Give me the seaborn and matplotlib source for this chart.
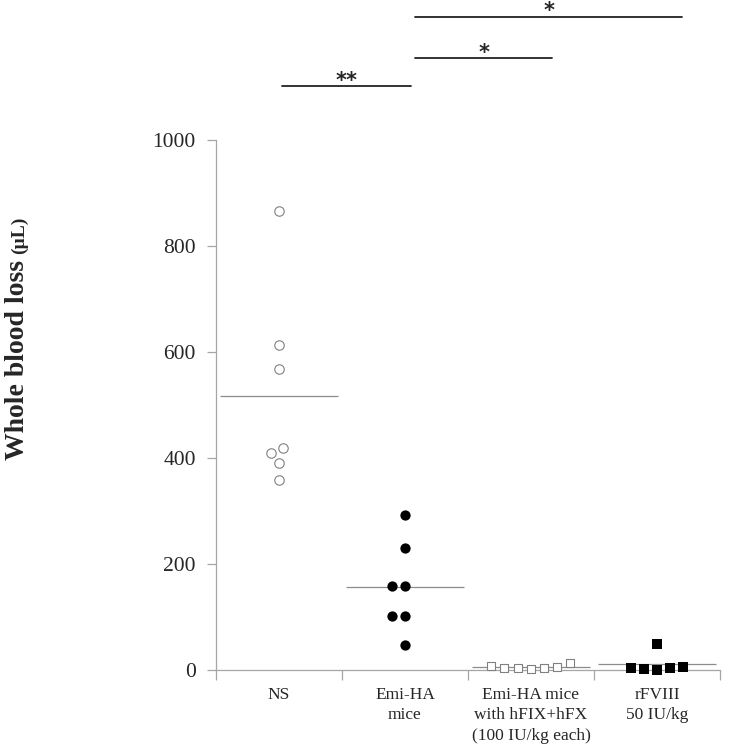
import numpy as np
import pandas as pd
import seaborn as sns
import matplotlib.pyplot as plt

groups = ["NS", "Emi-HA\nmice", "Emi-HA mice\nwith hFIX+hFX\n(100 IU/kg each)", "rFVIII\n50 IU/kg"]
ns_loss = [866, 614, 567, 418, 410, 391, 359]
emi_loss = [293, 231, 158, 158, 102, 102, 47]
emi_fix_loss = [8, 4, 3, 2, 3, 6, 14]
rfviii_loss = [50, 5, 4, 3, 1, 0]
yticks = [0, 200, 400, 600, 800, 1000]

# significance bars drawn above the plot
bar_start = [0.02, 1.08, 1.08]
bar_end = [1.05, 2.17, 3.2]
bar_level = [1102, 1155, 1233]
bar_label = ["**", "*", "*"]

sns.set_style("ticks")
plt.rcParams["font.family"] = ["Liberation Serif", "DejaVu Serif"]

df = pd.concat([
    pd.DataFrame({"group": g, "loss": v})
    for g, v in zip(groups, [ns_loss, emi_loss, emi_fix_loss, rfviii_loss])
])

styles = [
    dict(marker="o", face="white", edge="#808080", size=6.8, lw=0.8),
    dict(marker="o", face="black", edge="black", size=7.4, lw=0.0),
    dict(marker="s", face="white", edge="#808080", size=6.4, lw=0.8),
    dict(marker="s", face="black", edge="black", size=7.0, lw=0.0),
]
swarm_diam = 9.1  # spacing used to lay out the swarm (points)

fig = plt.figure(figsize=(7.5, 7.53), dpi=100)
ax = fig.add_axes([216 / 750, 1 - 670 / 753, 504 / 750, 530 / 753])

colls = []
for g, st in zip(groups, styles):
    n0 = len(ax.collections)
    sns.swarmplot(data=df[df["group"] == g], x="group", y="loss", order=groups,
                  marker=st["marker"], color=st["face"], edgecolor=st["edge"],
                  linewidth=st["lw"], size=swarm_diam - st["lw"], ax=ax)
    colls.append(ax.collections[n0:])

for i, vals in enumerate([ns_loss, emi_loss, emi_fix_loss, rfviii_loss]):
    ax.hlines(np.mean(vals), i - 0.47, i + 0.47, color="#8c8c8c", lw=0.9, zorder=1)

ax.set_xlim(-0.5, 3.5)
ax.set_ylim(0, 1000)
ax.set_yticks(yticks)
ax.set_xticks(range(len(groups)))
ax.set_xticklabels(groups, linespacing=1.4)
ax.set_xticks([-0.5, 0.5, 1.5, 2.5, 3.5], minor=True)
ax.set_xlabel("")
ax.set_ylabel("")
sns.despine(ax=ax)
for s in ["left", "bottom"]:
    ax.spines[s].set_color("#a6a6a6")
    ax.spines[s].set_linewidth(0.9)
ax.tick_params(axis="x", which="major", length=0, pad=12, labelsize=12.5)
ax.tick_params(axis="x", which="minor", length=7, color="#a6a6a6", width=0.9)
ax.tick_params(axis="y", length=6.5, color="#a6a6a6", width=0.9, pad=8, labelsize=15.5)

for x0, x1, h, lab in zip(bar_start, bar_end, bar_level, bar_label):
    ax.plot([x0, x1], [h, h], color="#222222", lw=1.3, clip_on=False)
    ax.annotate(lab, xy=((x0 + x1) / 2, h), xytext=(0, -0.5), textcoords="offset points",
                ha="center", va="baseline", fontsize=15, fontweight="bold",
                family="DejaVu Sans", annotation_clip=False)

# lay out the swarm, then shrink markers back to their drawn size
fig.canvas.draw()
for group_colls, st in zip(colls, styles):
    for c in group_colls:
        if "draw" in vars(c):
            del c.draw
        c.set_sizes([st["size"] ** 2])
        c.set_clip_on(False)

renderer = fig.canvas.get_renderer()
t1 = fig.text(24 / 750, 1 - 460 / 753, "Whole blood loss", rotation=90,
              rotation_mode="anchor", ha="left", va="baseline",
              fontsize=20, fontweight="bold")
bb = t1.get_window_extent(renderer)
fig.text(24 / 750, (bb.y1 + 6) / fig.bbox.height, "(µL)", rotation=90,
         rotation_mode="anchor", ha="left", va="baseline",
         fontsize=14, fontweight="bold")

fig.savefig("out.png", dpi=100)
